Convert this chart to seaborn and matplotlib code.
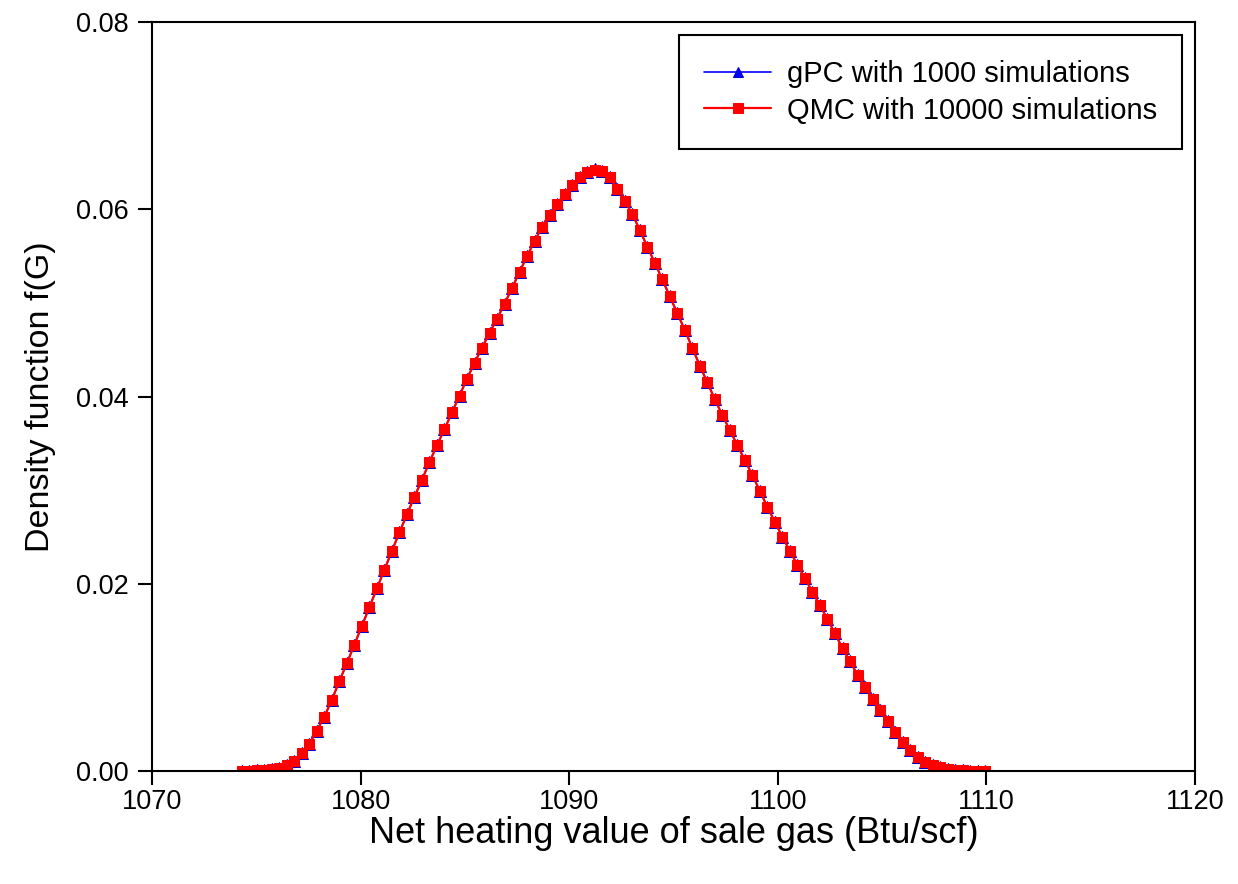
import numpy as np
import pandas as pd
import matplotlib
matplotlib.use("Agg")
import matplotlib.pyplot as plt
import seaborn as sns

# x grid (Btu/scf)
x_vals = [
    1074.30, 1074.66, 1075.02, 1075.38, 1075.74, 1076.10, 1076.46, 1076.82, 1077.18, 1077.54,
    1077.90, 1078.26, 1078.62, 1078.98, 1079.34, 1079.70, 1080.06, 1080.42, 1080.78, 1081.14,
    1081.50, 1081.86, 1082.22, 1082.58, 1082.94, 1083.30, 1083.66, 1084.02, 1084.38, 1084.74,
    1085.10, 1085.46, 1085.82, 1086.18, 1086.54, 1086.90, 1087.26, 1087.62, 1087.98, 1088.34,
    1088.70, 1089.06, 1089.42, 1089.78, 1090.14, 1090.50, 1090.86, 1091.22, 1091.58, 1091.94,
    1092.30, 1092.66, 1093.02, 1093.38, 1093.74, 1094.10, 1094.46, 1094.82, 1095.18, 1095.54,
    1095.90, 1096.26, 1096.62, 1096.98, 1097.34, 1097.70, 1098.06, 1098.42, 1098.78, 1099.14,
    1099.50, 1099.86, 1100.22, 1100.58, 1100.94, 1101.30, 1101.66, 1102.02, 1102.38, 1102.74,
    1103.10, 1103.46, 1103.82, 1104.18, 1104.54, 1104.90, 1105.26, 1105.62, 1105.98, 1106.34,
    1106.70, 1107.06, 1107.42, 1107.78, 1108.14, 1108.50, 1108.86, 1109.22, 1109.58, 1109.94,
]

gpc_density = [
    0.0000, 0.0000, 0.0001, 0.0001, 0.0002, 0.0003, 0.0006, 0.0011, 0.0019, 0.0029,
    0.0043, 0.0058, 0.0076, 0.0096, 0.0115, 0.0135, 0.0155, 0.0175, 0.0195, 0.0215,
    0.0235, 0.0255, 0.0274, 0.0293, 0.0311, 0.0330, 0.0348, 0.0365, 0.0383, 0.0401,
    0.0419, 0.0436, 0.0452, 0.0468, 0.0483, 0.0499, 0.0516, 0.0533, 0.0550, 0.0566,
    0.0581, 0.0594, 0.0606, 0.0616, 0.0626, 0.0634, 0.0640, 0.0643, 0.0641, 0.0634,
    0.0622, 0.0609, 0.0595, 0.0578, 0.0560, 0.0543, 0.0525, 0.0507, 0.0489, 0.0471,
    0.0452, 0.0433, 0.0415, 0.0397, 0.0380, 0.0364, 0.0348, 0.0332, 0.0316, 0.0299,
    0.0282, 0.0266, 0.0250, 0.0235, 0.0220, 0.0206, 0.0191, 0.0177, 0.0162, 0.0147,
    0.0131, 0.0117, 0.0103, 0.0090, 0.0077, 0.0065, 0.0053, 0.0042, 0.0031, 0.0022,
    0.0015, 0.0010, 0.0006, 0.0004, 0.0002, 0.0001, 0.0001, 0.0000, 0.0000, 0.0000,
]

qmc_density = [
    0.0000, 0.0000, 0.0001, 0.0001, 0.0002, 0.0003, 0.0006, 0.0011, 0.0019, 0.0029,
    0.0043, 0.0058, 0.0076, 0.0096, 0.0115, 0.0135, 0.0155, 0.0175, 0.0195, 0.0215,
    0.0235, 0.0255, 0.0274, 0.0293, 0.0311, 0.0330, 0.0348, 0.0365, 0.0383, 0.0401,
    0.0419, 0.0436, 0.0452, 0.0468, 0.0483, 0.0499, 0.0516, 0.0533, 0.0550, 0.0566,
    0.0581, 0.0594, 0.0606, 0.0616, 0.0626, 0.0634, 0.0640, 0.0642, 0.0641, 0.0634,
    0.0622, 0.0609, 0.0595, 0.0578, 0.0560, 0.0543, 0.0525, 0.0507, 0.0489, 0.0471,
    0.0452, 0.0433, 0.0415, 0.0397, 0.0380, 0.0364, 0.0348, 0.0332, 0.0316, 0.0299,
    0.0282, 0.0266, 0.0250, 0.0235, 0.0220, 0.0206, 0.0191, 0.0177, 0.0162, 0.0147,
    0.0131, 0.0117, 0.0103, 0.0090, 0.0077, 0.0065, 0.0053, 0.0042, 0.0031, 0.0022,
    0.0015, 0.0010, 0.0006, 0.0004, 0.0002, 0.0001, 0.0001, 0.0000, 0.0000, 0.0000,
]

series_labels = ["gPC with 1000 simulations", "QMC with 10000 simulations"]
x_ticks = [1070, 1080, 1090, 1100, 1110, 1120]
y_ticks = [0.00, 0.02, 0.04, 0.06, 0.08]
x_label = "Net heating value of sale gas (Btu/scf)"
y_label = "Density function f(G)"

sns.set_style("white")
plt.rcParams['font.family'] = ['Liberation Sans', 'DejaVu Sans']
plt.rcParams['text.color'] = 'black'
plt.rcParams['axes.labelcolor'] = 'black'
plt.rcParams['xtick.color'] = 'black'
plt.rcParams['ytick.color'] = 'black'

fig = plt.figure(figsize=(12.38, 8.84), dpi=100)
ax = fig.add_axes([0.1228, 0.1278, 0.8425, 0.8473])

df_gpc = pd.DataFrame({"x": x_vals, "y": gpc_density})
df_qmc = pd.DataFrame({"x": x_vals, "y": qmc_density})

sns.lineplot(data=df_gpc, x="x", y="y", ax=ax, color="#0000ff", linewidth=1.2,
             marker="^", markersize=8.5, markeredgecolor="#0000cc", markerfacecolor="#0000ff",
             label=series_labels[0])
sns.lineplot(data=df_qmc, x="x", y="y", ax=ax, color="#ff0000", linewidth=1.6,
             marker="s", markersize=6.5, markeredgecolor="#ff0000", markerfacecolor="#ff0000",
             label=series_labels[1])

ax.set_xlim(1070, 1120)
ax.set_ylim(0, 0.08)
ax.set_xticks(x_ticks)
ax.set_yticks(y_ticks)
ax.set_yticklabels([f"{v:.2f}" for v in y_ticks])
ax.tick_params(axis="both", which="major", direction="out", length=10, width=1.5,
               labelsize=19.5, color="black", labelcolor="black", pad=7,
               bottom=True, left=True, top=False, right=False)
ax.tick_params(axis="x", pad=3)
ax.set_xlabel(x_label, fontsize=26, labelpad=1)
ax.set_ylabel(y_label, fontsize=24.5, labelpad=14)

for s in ax.spines.values():
    s.set_color("black")
    s.set_linewidth(1.5)

leg = ax.legend(loc="upper right", fontsize=21, frameon=True, fancybox=False,
                edgecolor="black", borderpad=0.85, handlelength=2.3, handletextpad=0.55,
                labelspacing=0.3, borderaxespad=0,
                bbox_to_anchor=(0.9875, 0.9826))
leg.get_frame().set_linewidth(1.5)
leg.get_frame().set_alpha(1)
for line in leg.get_lines():
    line.set_markersize(7)

fig.savefig("out.png", dpi=100)
